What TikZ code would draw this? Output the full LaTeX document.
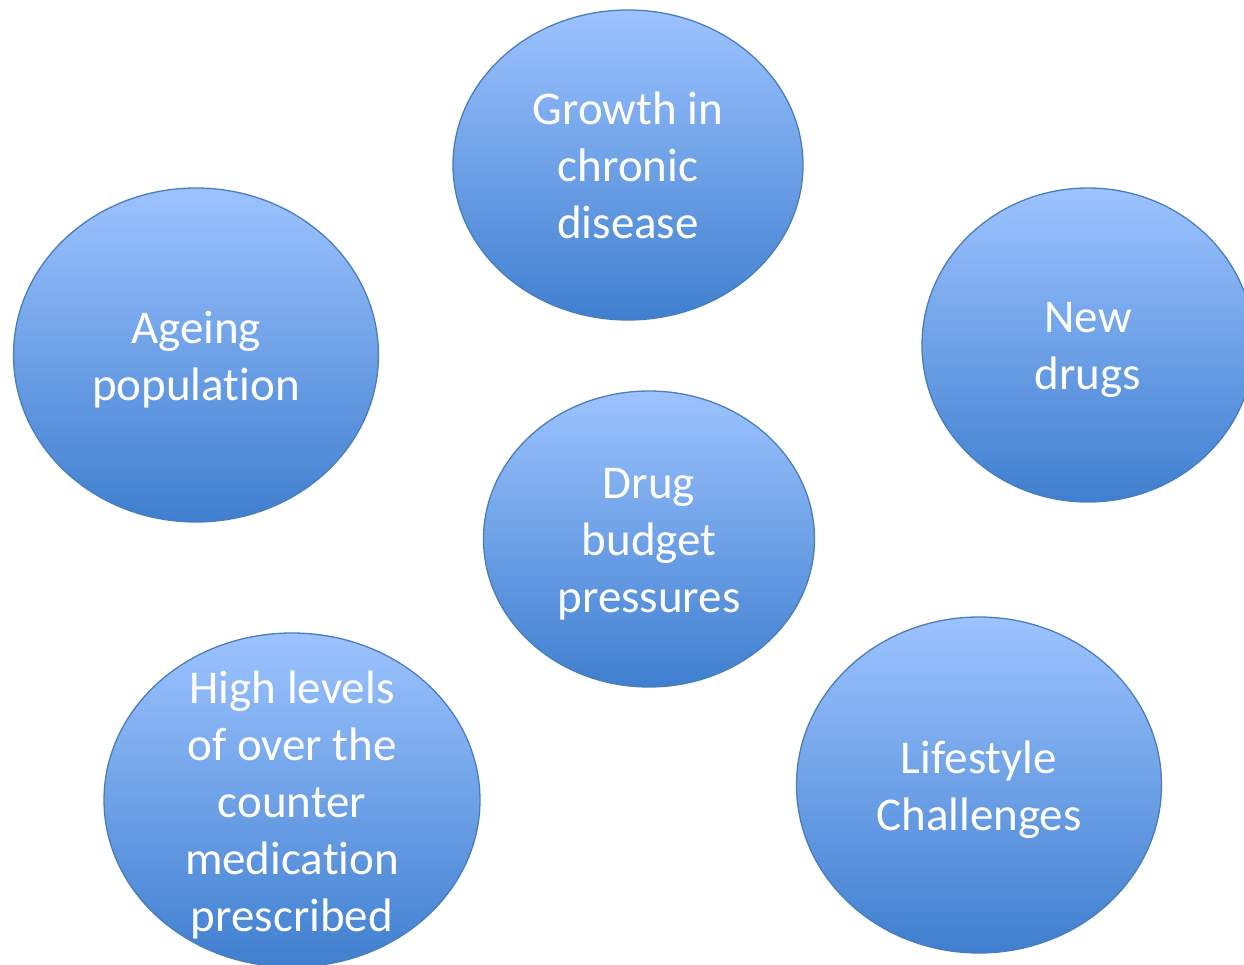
\documentclass[tikz,border=0pt]{standalone}
\usepackage{fontspec}
\setmainfont[Ligatures={NoCommon}]{Carlito}
\usetikzlibrary{shapes.geometric}
\definecolor{topblue}{HTML}{9DC3FF}
\definecolor{botblue}{HTML}{3F7FCF}
\definecolor{edgeblue}{HTML}{4A7EBB}
\tikzset{
  bubble/.style={ellipse, draw=edgeblue, line width=1.3pt, top color=topblue, bottom color=botblue,
    inner sep=0pt, outer sep=0pt},
  lbl/.style={text=white, align=center, font=\fontsize{47}{57}\selectfont, inner sep=0pt, yshift=-5pt},
}
\begin{document}
\begin{tikzpicture}[x=1pt,y=-1pt]
\useasboundingbox (0,0) rectangle (1244,965);
\begin{scope}
\clip (0,0) rectangle (1244,965);
\node[bubble, minimum width=350pt, minimum height=310pt] (growth) at (628,165) {};
\node[bubble, minimum width=365pt, minimum height=334pt] (ageing) at (196,355) {};
\node[bubble, minimum width=332pt, minimum height=314pt] (newdrugs) at (1088,345) {};
\node[bubble, minimum width=331pt, minimum height=296pt] (budget) at (649,539) {};
\node[bubble, minimum width=376pt, minimum height=334pt] (otc) at (292,800) {};
\node[bubble, minimum width=365pt, minimum height=336pt] (lifestyle) at (979,785) {};
\end{scope}
\node[lbl, yshift=5pt] (tgrowth) at (growth.center) {Growth in\\chronic\\disease};
\node[lbl] (tageing) at (ageing.center) {Ageing\\population};
\node[lbl] (tnew) at (newdrugs.center) {New\\drugs};
\node[lbl] (tbudget) at (budget.center) {Drug\\budget\\pressures};
\node[lbl] (totc) at (otc.center) {High levels\\of over the\\counter\\medication\\prescribed};
\node[lbl] (tlife) at (lifestyle.center) {Lifestyle\\Challenges};
\end{tikzpicture}
\end{document}
